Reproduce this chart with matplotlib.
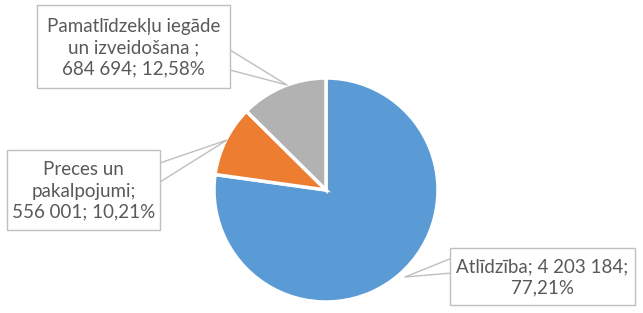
import matplotlib
matplotlib.use("Agg")
import matplotlib.pyplot as plt
from matplotlib.patches import Rectangle

labels = ["Atlīdzība", "Preces un\npakalpojumi;", "Pamatlīdzekļu iegāde\nun izveidošana ;"]
values = [4203184, 556001, 684694]
colors = ["#5B9BD5", "#ED7D31", "#B2B2B2"]

W, H = 643, 313
fig = plt.figure(figsize=(W / 100, H / 100), dpi=100)
ax = fig.add_axes([0, 0, 1, 1])

ax.pie(values, colors=colors, startangle=90, counterclock=False,
       center=(326, H - 190), radius=112, frame=True,
       wedgeprops=dict(edgecolor="white", linewidth=2.5))
ax.set_xlim(0, W)
ax.set_ylim(0, H)
ax.set_aspect("equal")
ax.axis("off")

total = sum(values)

def fmt_num(v):
    return f"{v:,}".replace(",", " ")

def fmt_pct(v):
    return f"{v / total * 100:.2f}%".replace(".", ",")

texts = [
    f"{labels[0]}; {fmt_num(values[0])};\n{fmt_pct(values[0])}",
    f"{labels[1]}\n{fmt_num(values[1])}; {fmt_pct(values[1])}",
    f"{labels[2]}\n{fmt_num(values[2])}; {fmt_pct(values[2])}",
]
# boxes in pixel coords: (x0, y0, x1, y1) top-left origin
boxes = [(450, 248, 635, 305), (7, 150, 160, 230), (37, 5, 230, 88)]
# callout: two points on box edge and tip
callouts = [
    [(452, 258), (405, 277), (452, 273)],
    [(160, 163), (227, 140), (160, 182)],
    [(230, 50), (287, 85), (230, 70)],
]

edge = "#BFBFBF"
for txt, (x0, y0, x1, y1), cl in zip(texts, boxes, callouts):
    pts = [(x, H - y) for x, y in cl]
    ax.plot([p[0] for p in pts], [p[1] for p in pts], color=edge, lw=1, zorder=3)
    ax.add_patch(Rectangle((x0, H - y1), x1 - x0, y1 - y0, facecolor="white",
                           edgecolor=edge, lw=1, zorder=4))
    ax.text((x0 + x1) / 2, H - (y0 + y1) / 2 - 1, txt, ha="center", va="center",
            fontsize=13.5, color="#595959", family=["Lato", "DejaVu Sans"],
            linespacing=1.3, zorder=5)

fig.savefig("out.png", dpi=100)
